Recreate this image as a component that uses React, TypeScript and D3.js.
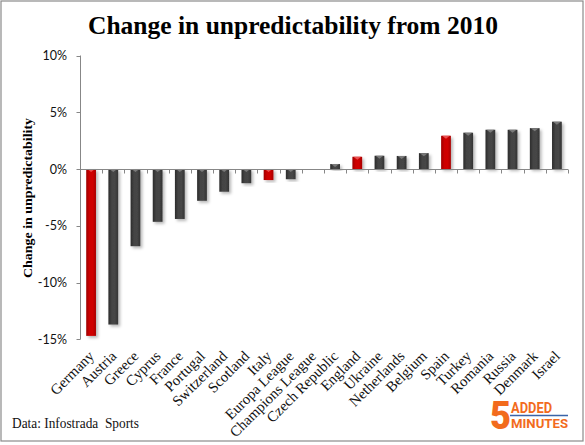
import React, { useEffect, useRef } from "react";
import * as d3 from "d3";

const countries = [
  "Germany", "Austria", "Greece", "Cyprus", "France", "Portugal", "Switzerland",
  "Scotland", "Italy", "Europa League", "Champions League", "Czech Republic",
  "England", "Ukraine", "Netherlands", "Belgium", "Spain", "Turkey", "Romania",
  "Russia", "Denmark", "Israel",
];
const changes = [
  -14.7, -13.7, -6.8, -4.65, -4.4, -2.8, -2.0, -1.25, -0.97, -0.9, 0, 0.44,
  1.08, 1.17, 1.15, 1.4, 2.93, 3.2, 3.46, 3.46, 3.6, 4.17,
];
const highlighted = ["Germany", "Italy", "England", "Spain"];
const yTicks = [10, 5, 0, -5, -10, -15];

const W = 585;
const H = 445;
const serif = "'Liberation Serif', 'DejaVu Serif', serif";
const sans = "Lato, 'Liberation Sans', sans-serif";

export default function App() {
  const ref = useRef<SVGSVGElement>(null);

  useEffect(() => {
    if (!ref.current) return;
    const svg = d3.select(ref.current);
    svg.selectAll("*").remove();

    const x = d3.scaleBand<string>()
      .domain(countries)
      .range([80, 568])
      .paddingInner(0.56)
      .paddingOuter(0.28);
    const y = d3.scaleLinear().domain([-15, 10]).range([339.3, 55.5]);
    const step = x.step();

    const defs = svg.append("defs");
    const grad = (id: string, stops: string[]) => {
      const g = defs.append("linearGradient").attr("id", id)
        .attr("x1", "0%").attr("x2", "100%").attr("y1", "0%").attr("y2", "0%");
      stops.forEach((c, i) => g.append("stop")
        .attr("offset", `${(i / (stops.length - 1)) * 100}%`).attr("stop-color", c));
    };
    grad("gDark", ["#2b2b2b", "#444444", "#464646", "#333333"]);
    grad("gRed", ["#9e0000", "#cc0000", "#d00000", "#a80000"]);
    const f = defs.append("filter").attr("id", "shadow")
      .attr("x", "-50%").attr("y", "-20%").attr("width", "200%").attr("height", "140%");
    f.append("feDropShadow").attr("dx", 2).attr("dy", 2)
      .attr("stdDeviation", 1.4).attr("flood-color", "#000").attr("flood-opacity", 0.28);

    // frame
    svg.append("rect").attr("x", 1).attr("y", 1).attr("width", 582).attr("height", 440)
      .attr("fill", "#fff").attr("stroke", "#8a8a8a").attr("stroke-width", 1.2);

    // title
    svg.append("text").text("Change in unpredictability from 2010")
      .attr("x", 293).attr("y", 34).attr("text-anchor", "middle")
      .attr("font-family", serif).attr("font-weight", "bold").attr("font-size", 25)
      .attr("textLength", 410).attr("lengthAdjust", "spacingAndGlyphs");

    // y axis
    const axisColor = "#878787";
    svg.append("line").attr("x1", 80.5).attr("x2", 80.5)
      .attr("y1", y(10)).attr("y2", y(-15)).attr("stroke", axisColor);
    yTicks.forEach(t => {
      svg.append("line").attr("x1", 76.5).attr("x2", 80.5)
        .attr("y1", Math.round(y(t)) + 0.5).attr("y2", Math.round(y(t)) + 0.5)
        .attr("stroke", axisColor);
      svg.append("text").text(`${t}%`)
        .attr("x", 67).attr("y", y(t) + 4.5).attr("text-anchor", "end")
        .attr("font-family", sans).attr("font-size", 12.5).attr("fill", "#111");
    });

    svg.append("text").text("Change in unpredictability")
      .attr("transform", `translate(32,198) rotate(-90)`)
      .attr("text-anchor", "middle")
      .attr("font-family", serif).attr("font-weight", "bold").attr("font-size", 13)
      .attr("textLength", 160).attr("lengthAdjust", "spacingAndGlyphs");

    // bars
    const g = svg.append("g");
    countries.forEach((c, i) => {
      const v = changes[i];
      if (v === 0) return;
      const hl = highlighted.includes(c);
      const bx = x(c) || 0;
      const bw = x.bandwidth();
      const top = y(Math.max(0, v));
      const bottom = y(Math.min(0, v));
      g.append("rect").attr("x", bx).attr("y", top)
        .attr("width", bw).attr("height", bottom - top)
        .attr("fill", hl ? "url(#gRed)" : "url(#gDark)")
        .attr("filter", "url(#shadow)");
      const bev = Math.min(3, bottom - top);
      g.append("path")
        .attr("d", `M${bx + 1},${top} L${bx + bw - 1},${top} L${bx + bw / 2},${top + bev} Z`)
        .attr("fill", hl ? "#e85050" : "#7a7a7a");
    });

    // zero line and category ticks
    const zy = Math.round(y(0)) + 0.5;
    svg.append("line").attr("x1", 80).attr("x2", 568)
      .attr("y1", zy).attr("y2", zy).attr("stroke", axisColor).attr("stroke-width", 1.2);
    d3.range(countries.length + 1).forEach(i => {
      const tx = Math.round(80 + i * step) + 0.5;
      svg.append("line").attr("x1", tx).attr("x2", tx)
        .attr("y1", zy).attr("y2", zy + 4).attr("stroke", axisColor);
    });

    // category labels
    countries.forEach(c => {
      const cx = (x(c) || 0) + x.bandwidth() / 2;
      svg.append("text").text(c)
        .attr("transform", `translate(${cx + 4},357) rotate(-45)`)
        .attr("text-anchor", "end")
        .attr("font-family", serif).attr("font-size", 14.8).attr("fill", "#111");
    });

    // source
    svg.append("text").text("Data: Infostrada  Sports").attr("xml:space", "preserve")
      .attr("x", 12).attr("y", 428)
      .attr("font-family", serif).attr("font-size", 14).attr("fill", "#111")
      .attr("textLength", 127).attr("lengthAdjust", "spacingAndGlyphs");

    // logo
    const orange = "#f26b1d";
    const logo = svg.append("g");
    logo.append("text").text("5").attr("x", 490).attr("y", 428.5)
      .attr("font-family", "Roboto, sans-serif").attr("font-weight", 900)
      .attr("font-size", 38).attr("fill", orange)
      .attr("textLength", 21).attr("lengthAdjust", "spacingAndGlyphs");
    logo.append("text").text("ADDED").attr("x", 511).attr("y", 413)
      .attr("font-family", "Roboto, sans-serif").attr("font-weight", "bold")
      .attr("font-size", 15).attr("fill", orange)
      .attr("textLength", 41).attr("lengthAdjust", "spacingAndGlyphs");
    logo.append("line").attr("x1", 510).attr("x2", 568).attr("y1", 415.5).attr("y2", 415.5)
      .attr("stroke", "#3a64a8").attr("stroke-width", 1.3);
    logo.append("text").text("MINUTES").attr("x", 511).attr("y", 428)
      .attr("font-family", "Roboto, sans-serif").attr("font-weight", "bold")
      .attr("font-size", 12).attr("fill", orange)
      .attr("textLength", 57).attr("lengthAdjust", "spacingAndGlyphs");
  }, []);

  return (
    <svg ref={ref} width={W} height={H}
      style={{ position: "absolute", left: 0, top: 0, background: "#fff" }} />
  );
}
